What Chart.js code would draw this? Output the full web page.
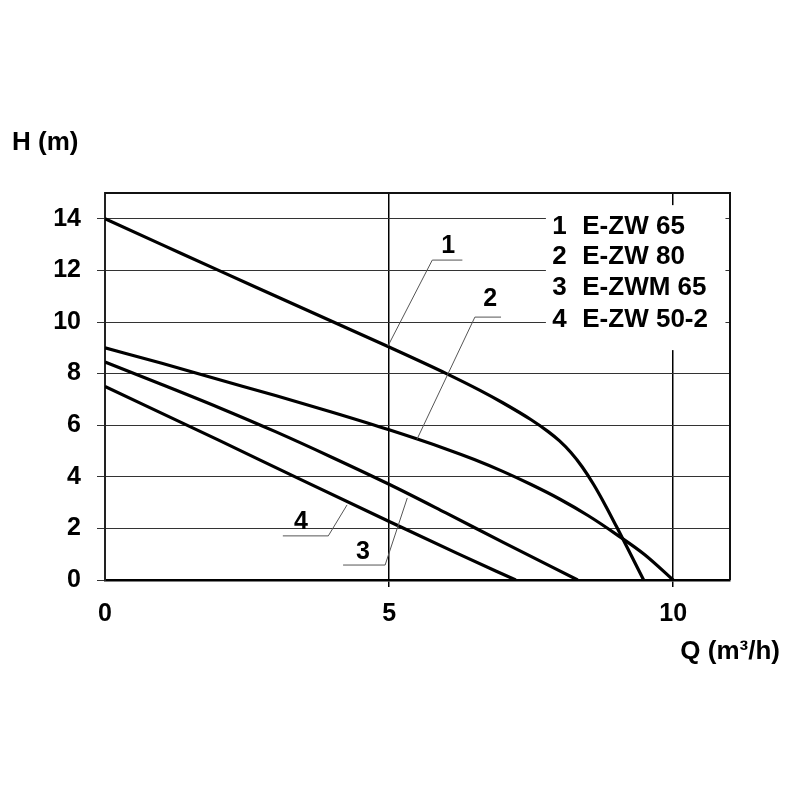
<!DOCTYPE html>
<html>
<head>
<meta charset="utf-8">
<script src="https://cdn.jsdelivr.net/npm/chart.js@4.4.1/dist/chart.umd.min.js"></script>
<style>
html,body{margin:0;padding:0;background:#fff;}
#wrap{width:800px;height:800px;}
</style>
</head>
<body>
<div id="wrap"><canvas id="c" width="800" height="800"></canvas></div>
<script>
// ---- data ----
const seriesNames = ['E-ZW 65', 'E-ZW 80', 'E-ZWM 65', 'E-ZW 50-2'];
const seriesNumbers = ['1', '2', '3', '4'];

const q1 = [0, 1, 2, 3, 4, 5, 6, 6.6, 7, 7.5, 7.8, 8.0, 8.2, 8.4, 8.6, 8.8, 9.0, 9.2, 9.48];
const h1 = [14, 13.0, 12.0, 11.01, 10.02, 9.03, 8.01, 7.35, 6.87, 6.21, 5.75, 5.39, 4.94, 4.38, 3.70, 2.92, 2.08, 1.22, 0];

const q2 = [0, 1, 2, 3, 4, 5, 6, 6.5, 7, 7.5, 8, 8.5, 9, 9.5, 10];
const h2 = [9.0, 8.40, 7.77, 7.15, 6.5, 5.82, 5.08, 4.67, 4.21, 3.70, 3.14, 2.50, 1.77, 0.98, 0];

const q3 = [0, 1, 2, 3, 4, 5, 6, 7, 8.32];
const h3 = [8.45, 7.58, 6.69, 5.75, 4.75, 3.71, 2.6, 1.47, 0];

const q4 = [0, 2, 3.43, 5.02, 6.2, 7.23];
const h4 = [7.5, 5.42, 3.91, 2.25, 1.03, 0];

const xTicks = [0, 5, 10];
const yTicks = [0, 2, 4, 6, 8, 10, 12, 14];
const xMax = 11, yMax = 15;

const xTitle = 'Q (m³/h)';
const yTitle = 'H (m)';

// annotation leaders (data coordinates)
const annoAnchorQ = [4.98, 5.49, 5.32, 4.26];
const annoAnchorH = [9.07, 5.45, 3.18, 2.91];
const annoElbowQ = [5.76, 6.51, 4.93, 3.93];
const annoElbowH = [12.40, 10.19, 0.58, 1.71];
const annoEndQ = [6.29, 6.97, 4.19, 3.13];
const annoTextQ = [6.04, 6.78, 4.54, 3.45];
const annoTextH = [12.95, 10.89, 1.09, 2.25];

// legend box (data coordinates)
const legendBoxQ = [7.76, 10.92];
const legendBoxH = [8.91, 14.53];
const legendNumQ = 7.87, legendNameQ = 8.40;
const legendRowH = [13.68, 12.52, 11.32, 10.08];

// ---- build ----
const FONT = "'Liberation Sans', Arial, sans-serif";
function pts(q, h) { return q.map((v, i) => ({x: v, y: h[i]})); }
const allQ = [q1, q2, q3, q4], allH = [h1, h2, h3, h4];

const datasets = allQ.map((q, i) => ({
  label: seriesNames[i],
  data: pts(q, allH[i]),
  borderColor: '#000',
  borderWidth: 3.2,
  pointRadius: 0,
  fill: false,
  cubicInterpolationMode: 'monotone',
  tension: 0.4
}));

const overlay = {
  id: 'overlay',
  beforeDatasetsDraw(chart) {
    const {ctx, scales: {x, y}} = chart;
    ctx.save();
    ctx.fillStyle = '#fff';
    const x0 = x.getPixelForValue(legendBoxQ[0]), x1 = x.getPixelForValue(legendBoxQ[1]);
    const y0 = y.getPixelForValue(legendBoxH[1]), y1 = y.getPixelForValue(legendBoxH[0]);
    ctx.fillRect(x0, y0, x1 - x0, y1 - y0);
    ctx.restore();
  },
  afterDraw(chart) {
    const {ctx, chartArea: a, scales: {x, y}} = chart;
    ctx.save();
    // frame top & right
    ctx.strokeStyle = '#111';
    ctx.lineWidth = 2;
    ctx.beginPath();
    ctx.moveTo(a.left, a.top);
    ctx.lineTo(a.right, a.top);
    ctx.lineTo(a.right, a.bottom);
    ctx.stroke();

    // leaders
    ctx.strokeStyle = '#555';
    ctx.lineWidth = 1;
    for (let i = 0; i < annoAnchorQ.length; i++) {
      ctx.beginPath();
      ctx.moveTo(x.getPixelForValue(annoAnchorQ[i]), y.getPixelForValue(annoAnchorH[i]));
      ctx.lineTo(x.getPixelForValue(annoElbowQ[i]), y.getPixelForValue(annoElbowH[i]));
      ctx.lineTo(x.getPixelForValue(annoEndQ[i]), y.getPixelForValue(annoElbowH[i]));
      ctx.stroke();
    }
    ctx.fillStyle = '#000';
    ctx.font = 'bold 25px ' + FONT;
    ctx.textAlign = 'center';
    ctx.textBaseline = 'middle';
    for (let i = 0; i < seriesNumbers.length; i++) {
      ctx.fillText(seriesNumbers[i], x.getPixelForValue(annoTextQ[i]), y.getPixelForValue(annoTextH[i]));
    }
    // legend
    ctx.font = 'bold 26px ' + FONT;
    ctx.textAlign = 'left';
    for (let i = 0; i < seriesNames.length; i++) {
      const yy = y.getPixelForValue(legendRowH[i]);
      ctx.fillText(seriesNumbers[i], x.getPixelForValue(legendNumQ), yy);
      ctx.fillText(seriesNames[i], x.getPixelForValue(legendNameQ), yy);
    }
    // axis titles
    ctx.font = 'bold 26px ' + FONT;
    ctx.textAlign = 'left';
    ctx.fillText(yTitle, a.left - 93, a.top - 50);
    ctx.textAlign = 'right';
    ctx.fillText(xTitle, a.right + 50, a.bottom + 72);
    ctx.restore();
  }
};

new Chart(document.getElementById('c'), {
  type: 'line',
  data: {datasets},
  options: {
    responsive: false,
    animation: false,
    devicePixelRatio: 1,
    layout: {padding: {left: 0, top: 193, right: 70, bottom: 0}},
    plugins: {legend: {display: false}, tooltip: {enabled: false}},
    scales: {
      x: {
        type: 'linear',
        min: 0, max: xMax,
        afterBuildTicks: s => { s.ticks = xTicks.map(v => ({value: v})); },
        afterFit: s => { s.height = 220; },
        grid: {
          color: c => (c.tick && c.tick.value > 0) ? '#000' : 'rgba(0,0,0,0)',
          lineWidth: 1.5,
          tickLength: 7,
          tickColor: c => (c.tick && c.tick.value > 0) ? '#000' : 'rgba(0,0,0,0)'
        },
        border: {display: true, color: '#000', width: 2.5},
        ticks: {
          color: '#000', padding: 12, maxRotation: 0,
          font: {family: FONT, size: 25, weight: 'bold'},
          callback: v => String(v)
        }
      },
      y: {
        type: 'linear',
        min: 0, max: yMax,
        afterBuildTicks: s => { s.ticks = yTicks.map(v => ({value: v})); },
        afterFit: s => { s.width = 105; },
        grid: {color: '#333', lineWidth: 1, tickLength: 8, tickColor: '#333'},
        border: {display: true, color: '#222', width: 2},
        ticks: {
          color: '#000', padding: 16,
          font: {family: FONT, size: 25, weight: 'bold'},
          callback: v => String(v)
        }
      }
    }
  },
  plugins: [overlay]
});
</script>
</body>
</html>
